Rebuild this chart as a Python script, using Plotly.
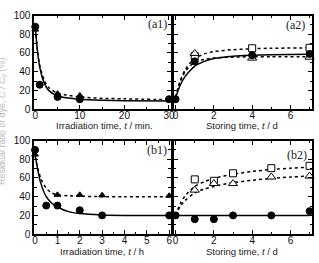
import plotly.graph_objects as go

W, H = 319, 263

# ---------------- data ----------------
# (a1) irradiation time, min
a1_circ_x = [0, 1, 5, 10, 30]
a1_circ_y = [88, 26, 13, 10.5, 10.5]
a1_tri_x = [0, 5, 10]
a1_tri_y = [85, 16.5, 14.5]
a1_fit_x = [0, 0.5, 1, 2, 3, 5, 7, 10, 15, 20, 30]
a1_solid_y = [88, 62, 45, 28, 20, 14, 12, 10.5, 9.5, 9, 8.5]
a1_dot_y = [86, 63, 47, 31, 23, 17, 15, 13, 11.5, 11, 10]

# (a2) storing time, d
a2_circ_x = [0, 1, 4, 7]
a2_circ_y = [10.5, 51, 57.5, 59]
a2_sq_x = [1, 4, 7]
a2_sq_y = [56.5, 65, 65.5]
a2_tri_x = [1, 4, 7]
a2_tri_y = [59.5, 54.5, 55.5]
a2_fit_x = [0, 0.25, 0.5, 0.75, 1, 1.5, 2, 3, 4, 5, 7]
a2_solid_y = [12, 26, 35, 41, 46, 51, 54, 56.5, 57.5, 58, 58.5]
a2_dot_hi_y = [13, 31, 42, 49, 54, 59, 61.5, 63.5, 64.5, 65, 65.5]
a2_dot_lo_y = [12, 30, 40, 46, 50, 53, 54.5, 55.5, 56, 56, 56]

# (b1) irradiation time, h
b1_circ_x = [0, 0.5, 1, 2, 3, 6]
b1_circ_y = [90, 30.5, 30.5, 25.5, 20, 20]
b1_tri_x = [0, 1, 2, 3, 6]
b1_tri_y = [85, 42, 42, 41.5, 41]
b1_fit_x = [0, 0.25, 0.5, 0.75, 1, 1.5, 2, 3, 4, 6]
b1_solid_y = [85, 55, 40, 33, 29, 24, 22, 20.5, 20, 20]
b1_dot_y = [83, 60, 49, 44, 42, 41, 40.5, 40, 40, 40]

# (b2) storing time, d
b2_circ_x = [0, 1, 2, 3, 5, 7]
b2_circ_y = [20, 16, 16, 20, 20, 24.5]
b2_sq_x = [1, 2, 3, 5, 7]
b2_sq_y = [58.5, 57, 65, 70.5, 73]
b2_tri_x = [1, 2, 3, 5, 7]
b2_tri_y = [47, 54, 54, 61, 62]
b2_solid_x = [0, 7]
b2_solid_y = [20, 20]
b2_fit_x = [0, 0.25, 0.5, 1, 1.5, 2, 3, 4, 5, 6, 7]
b2_dot_hi_y = [20, 33, 41, 51, 56, 59.5, 64, 67, 69, 70.5, 71.5]
b2_dot_lo_y = [20, 30, 36, 44, 48, 51, 55, 57.5, 59.5, 61, 62]

y_ticks = [0, 20, 40, 60, 80, 100]
x_titles = ["Irradiation time, <i>t</i> / min.", "Storing time, <i>t</i> / d",
            "Irradiation time, <i>t</i> / h", "Storing time, <i>t</i> / d"]
panel_labels = ["(a1)", "(a2)", "(b1)", "(b2)"]
y_title = "Residual ratio of dye, <i>C</i> / <i>C</i><sub>0</sub> (%)"

# ---------------- helpers ----------------
def fx(p):
    return p / W

def fy(p):
    return 1 - p / H

fig = go.Figure()

def line(x, y, ax, dash="solid"):
    fig.add_trace(go.Scatter(x=x, y=y, mode="lines", xaxis="x" + ax, yaxis="y" + ax,
                             line=dict(color="black", width=1.5, dash=dash, shape="spline", smoothing=0.8),
                             hoverinfo="skip", showlegend=False, cliponaxis=False))

def pts(x, y, ax, sym, size, fill):
    fig.add_trace(go.Scatter(x=x, y=y, mode="markers", xaxis="x" + ax, yaxis="y" + ax,
                             marker=dict(symbol=sym, size=size, color=fill,
                                         line=dict(color="black", width=1)),
                             showlegend=False, cliponaxis=False))

# a1
line(a1_fit_x, a1_dot_y, "", "dot")
line(a1_fit_x, a1_solid_y, "")
pts(a1_tri_x, a1_tri_y, "", "triangle-up", 6, "black")
pts(a1_circ_x, a1_circ_y, "", "circle", 7, "black")
# a2
line(a2_fit_x, a2_dot_hi_y, "2", "dot")
line(a2_fit_x, a2_dot_lo_y, "2", "dot")
line(a2_fit_x, a2_solid_y, "2")
pts(a2_sq_x, a2_sq_y, "2", "square", 7, "white")
pts(a2_tri_x, a2_tri_y, "2", "triangle-up", 8, "white")
pts(a2_circ_x, a2_circ_y, "2", "circle", 7, "black")
# b1
line(b1_fit_x, b1_dot_y, "3", "dot")
line(b1_fit_x, b1_solid_y, "3")
pts(b1_tri_x, b1_tri_y, "3", "triangle-up", 6, "black")
pts(b1_circ_x, b1_circ_y, "3", "circle", 7, "black")
# b2
line(b2_fit_x, b2_dot_hi_y, "4", "dot")
line(b2_fit_x, b2_dot_lo_y, "4", "dot")
line(b2_solid_x, b2_solid_y, "4")
pts(b2_sq_x, b2_sq_y, "4", "square", 7, "white")
pts(b2_tri_x, b2_tri_y, "4", "triangle-up", 8, "white")
pts(b2_circ_x, b2_circ_y, "4", "circle", 7, "black")

tickfont = dict(family="Liberation Sans, Arial", size=10, color="#111")

def xax(dom, rng, dtick, minor, anchor):
    return dict(domain=dom, range=rng, anchor=anchor, dtick=dtick, tick0=0,
                ticks="inside", ticklen=4, tickwidth=1, tickcolor="black",
                minor=dict(dtick=minor, tick0=0, ticks="inside", ticklen=2.5, tickcolor="black"),
                showline=True, linewidth=2, linecolor="black", mirror="ticks",
                showgrid=False, zeroline=False, tickfont=tickfont, fixedrange=True,
                ticklabelstandoff=-4)

def yax(dom, anchor, labels):
    return dict(domain=dom, range=[0, 100], anchor=anchor,
                tickmode="array", tickvals=y_ticks, ticktext=[str(v) for v in y_ticks],
                ticks="inside", ticklen=4, tickwidth=1, tickcolor="black",
                minor=dict(dtick=10, tick0=0, ticks="inside", ticklen=2.5, tickcolor="black"),
                showline=True, linewidth=2, linecolor="black", mirror="ticks",
                showgrid=False, zeroline=False, tickfont=tickfont, showticklabels=labels,
                fixedrange=True)

xl = [fx(33), fx(172)]
xr = [fx(175), fx(316)]
ya = [fy(108), fy(10)]
yb = [fy(239), fy(141)]

annotations = []
# x titles
for txt, cx, cy in zip(x_titles, [104, 245, 102, 245], [125, 125, 257, 257]):
    annotations.append(dict(text=txt, x=fx(cx), y=fy(cy), xref="paper", yref="paper",
                            showarrow=False, xanchor="center", yanchor="middle",
                            font=dict(family="Liberation Sans, Arial", size=9.5, color="#222")))
# panel labels
for txt, rx, cy in zip(panel_labels, [170, 311, 170, 313], [19, 20, 151, 156]):
    annotations.append(dict(text=txt, x=fx(rx), y=fy(cy), xref="paper", yref="paper",
                            showarrow=False, xanchor="right", yanchor="middle",
                            font=dict(family="Liberation Serif, Times New Roman", size=12, color="#222")))
# y title (partly cut off at the left edge)
annotations.append(dict(text=y_title, x=fx(0.5), y=fy(120), xref="paper", yref="paper",
                        showarrow=False, textangle=-90, xanchor="center", yanchor="middle",
                        font=dict(family="Liberation Sans, Arial", size=9, color="#bbb")))

fig.update_layout(
    width=W, height=H, margin=dict(l=0, r=0, t=0, b=0),
    paper_bgcolor="white", plot_bgcolor="white", showlegend=False,
    xaxis=xax(xl, [-0.2, 30.4], 10, 5, "y"),
    yaxis=yax(ya, "x", True),
    xaxis2=xax(xr, [-0.1, 7.13], 2, 1, "y2"),
    yaxis2=yax(ya, "x2", False),
    xaxis3=xax(xl, [-0.03, 6.07], 1, 0.5, "y3"),
    yaxis3=yax(yb, "x3", True),
    xaxis4=xax(xr, [-0.1, 7.13], 2, 1, "y4"),
    yaxis4=yax(yb, "x4", False),
    annotations=annotations,
)

fig.write_html("out.html")
